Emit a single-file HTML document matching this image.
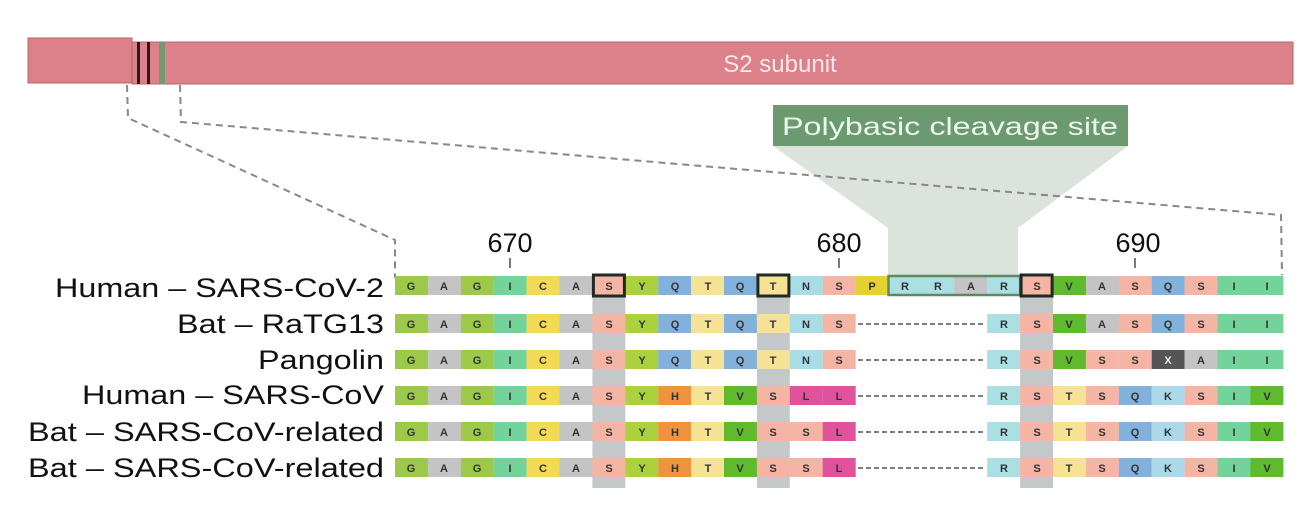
<!DOCTYPE html>
<html><head><meta charset="utf-8"><style>
body{margin:0;background:#fff}
svg{display:block}
.lb{font-family:"Liberation Sans",sans-serif;font-size:27px;fill:#111;text-anchor:end}
.t{font-family:"Liberation Sans",sans-serif;font-size:11px;font-weight:bold;fill:#333;text-anchor:middle}
.G{fill:#9cc94a}.A{fill:#c4c4c4}.I{fill:#72d49b}.C{fill:#f2da55}.S{fill:#f5b5a5}.Y{fill:#acd13e}.Q{fill:#82b2db}.T{fill:#f6e294}.N{fill:#a9dde6}.P{fill:#e5d232}.R{fill:#aadfe3}.V{fill:#5fba2e}.H{fill:#f0933e}.L{fill:#e0529b}.K{fill:#abd9ea}.X{fill:#555}
</style></head><body>
<svg width="1315" height="517" viewBox="0 0 1315 517" xmlns="http://www.w3.org/2000/svg">
<!-- top bar -->
<rect x="28" y="38" width="104" height="45" fill="#dc8089" stroke="#b86670" stroke-width="1"/>
<rect x="132" y="42" width="1161" height="42" fill="#dc8089" stroke="#b86670" stroke-width="1"/>
<rect x="137" y="42" width="3" height="42" fill="#2a1a1a"/>
<rect x="147" y="42" width="3" height="42" fill="#2a1a1a"/>
<rect x="159" y="42" width="6" height="42" fill="#6f9a72"/>
<text x="780" y="72" font-family="Liberation Sans,sans-serif" font-size="24" fill="#fbe8ea" text-anchor="middle">S2 subunit</text>
<!-- funnel -->
<polygon points="773,146 1128,146 1018,228 1018,278 888,278 888,228" fill="#d8dfd8" opacity="0.9"/>
<rect x="773" y="105" width="355" height="41" fill="#6b9a70"/>
<text x="950" y="135" font-family="Liberation Sans,sans-serif" font-size="25" fill="#eef5ee" text-anchor="middle" textLength="336" lengthAdjust="spacingAndGlyphs">Polybasic cleavage site</text>
<!-- dashed zoom lines -->
<polyline points="127,85 128,118 395,240 395,278" fill="none" stroke="#888" stroke-width="2" stroke-dasharray="7,5"/>
<polyline points="180,85 181,122 1281,215 1282,275" fill="none" stroke="#888" stroke-width="2" stroke-dasharray="7,5"/>
<!-- ticks -->
<g font-family="Liberation Sans,sans-serif" font-size="27" fill="#111" text-anchor="middle">
<text x="510" y="252">670</text><text x="839" y="252">680</text><text x="1138" y="252">690</text></g>
<g stroke="#777" stroke-width="2"><line x1="510" y1="258" x2="510" y2="268"/><line x1="839" y1="258" x2="839" y2="268"/><line x1="1135" y1="258" x2="1135" y2="268"/></g>
<!-- grey columns -->
<g fill="#c4c8c8"><rect x="592.4" y="295" width="32.9" height="193"/><rect x="756.9" y="295" width="32.9" height="193"/><rect x="1020.1" y="295" width="32.9" height="193"/></g>
<!-- labels -->
<text class="lb" x="384" y="297" textLength="329" lengthAdjust="spacingAndGlyphs">Human – SARS-CoV-2</text>
<text class="lb" x="384" y="333" textLength="207" lengthAdjust="spacingAndGlyphs">Bat – RaTG13</text>
<text class="lb" x="384" y="369" textLength="126" lengthAdjust="spacingAndGlyphs">Pangolin</text>
<text class="lb" x="384" y="404" textLength="302" lengthAdjust="spacingAndGlyphs">Human – SARS-CoV</text>
<text class="lb" x="384" y="441" textLength="356" lengthAdjust="spacingAndGlyphs">Bat – SARS-CoV-related</text>
<text class="lb" x="384" y="477" textLength="356" lengthAdjust="spacingAndGlyphs">Bat – SARS-CoV-related</text>

<!-- Row 1 -->
<g transform="translate(0,276)">
<rect class="G" x="395" width="33" height="19"/><rect class="A" x="427.9" width="33" height="19"/><rect class="G" x="460.8" width="33" height="19"/><rect class="I" x="493.7" width="33" height="19"/><rect class="C" x="526.6" width="33" height="19"/><rect class="A" x="559.5" width="33" height="19"/><rect class="S" x="592.4" width="33" height="19"/><rect class="Y" x="625.3" width="33" height="19"/><rect class="Q" x="658.2" width="33" height="19"/><rect class="T" x="691.1" width="33" height="19"/><rect class="Q" x="724" width="33" height="19"/><rect class="T" x="756.9" width="33" height="19"/><rect class="N" x="789.8" width="33" height="19"/><rect class="S" x="822.7" width="33" height="19"/><rect class="P" x="855.6" width="33" height="19"/><rect class="R" x="888.5" width="33" height="19"/><rect class="R" x="921.4" width="33" height="19"/><rect class="A" x="954.3" width="33" height="19"/><rect class="R" x="987.2" width="33" height="19"/><rect class="S" x="1020.1" width="33" height="19"/><rect class="V" x="1053" width="33" height="19"/><rect class="A" x="1085.9" width="33" height="19"/><rect class="S" x="1118.8" width="33" height="19"/><rect class="Q" x="1151.7" width="33" height="19"/><rect class="S" x="1184.6" width="33" height="19"/><rect class="I" x="1217.5" width="33" height="19"/><rect class="I" x="1250.4" width="33" height="19"/>
<g class="t"><text x="411" y="14">G</text><text x="444" y="14">A</text><text x="477" y="14">G</text><text x="510" y="14">I</text><text x="543" y="14">C</text><text x="576" y="14">A</text><text x="609" y="14">S</text><text x="642" y="14">Y</text><text x="675" y="14">Q</text><text x="708" y="14">T</text><text x="740" y="14">Q</text><text x="773" y="14">T</text><text x="806" y="14">N</text><text x="839" y="14">S</text><text x="872" y="14">P</text><text x="905" y="14">R</text><text x="938" y="14">R</text><text x="971" y="14">A</text><text x="1004" y="14">R</text><text x="1037" y="14">S</text><text x="1069" y="14">V</text><text x="1102" y="14">A</text><text x="1135" y="14">S</text><text x="1168" y="14">Q</text><text x="1201" y="14">S</text><text x="1234" y="14">I</text><text x="1267" y="14">I</text></g>
<rect x="888.5" y="0" width="131.6" height="19" fill="none" stroke="#5d8a62" stroke-width="2.5"/>
<g fill="none" stroke="#1f2a24" stroke-width="3"><rect x="593.4" y="-1" width="31" height="21"/><rect x="757.9" y="-1" width="31" height="21"/><rect x="1021.1" y="-1" width="31" height="21"/></g>
</g>

<!-- Row 2 -->
<g transform="translate(0,314)">
<rect class="G" x="395" width="33" height="19"/><rect class="A" x="427.9" width="33" height="19"/><rect class="G" x="460.8" width="33" height="19"/><rect class="I" x="493.7" width="33" height="19"/><rect class="C" x="526.6" width="33" height="19"/><rect class="A" x="559.5" width="33" height="19"/><rect class="S" x="592.4" width="33" height="19"/><rect class="Y" x="625.3" width="33" height="19"/><rect class="Q" x="658.2" width="33" height="19"/><rect class="T" x="691.1" width="33" height="19"/><rect class="Q" x="724" width="33" height="19"/><rect class="T" x="756.9" width="33" height="19"/><rect class="N" x="789.8" width="33" height="19"/><rect class="S" x="822.7" width="33" height="19"/><rect class="R" x="987.2" width="33" height="19"/><rect class="S" x="1020.1" width="33" height="19"/><rect class="V" x="1053" width="33" height="19"/><rect class="A" x="1085.9" width="33" height="19"/><rect class="S" x="1118.8" width="33" height="19"/><rect class="Q" x="1151.7" width="33" height="19"/><rect class="S" x="1184.6" width="33" height="19"/><rect class="I" x="1217.5" width="33" height="19"/><rect class="I" x="1250.4" width="33" height="19"/>
<line x1="858" y1="10" x2="985" y2="10" stroke="#555" stroke-width="1.5" stroke-dasharray="5,3"/>
<g class="t"><text x="411" y="14">G</text><text x="444" y="14">A</text><text x="477" y="14">G</text><text x="510" y="14">I</text><text x="543" y="14">C</text><text x="576" y="14">A</text><text x="609" y="14">S</text><text x="642" y="14">Y</text><text x="675" y="14">Q</text><text x="708" y="14">T</text><text x="740" y="14">Q</text><text x="773" y="14">T</text><text x="806" y="14">N</text><text x="839" y="14">S</text><text x="1004" y="14">R</text><text x="1037" y="14">S</text><text x="1069" y="14">V</text><text x="1102" y="14">A</text><text x="1135" y="14">S</text><text x="1168" y="14">Q</text><text x="1201" y="14">S</text><text x="1234" y="14">I</text><text x="1267" y="14">I</text></g>
</g>

<!-- Row 3 -->
<g transform="translate(0,350)">
<rect class="G" x="395" width="33" height="19"/><rect class="A" x="427.9" width="33" height="19"/><rect class="G" x="460.8" width="33" height="19"/><rect class="I" x="493.7" width="33" height="19"/><rect class="C" x="526.6" width="33" height="19"/><rect class="A" x="559.5" width="33" height="19"/><rect class="S" x="592.4" width="33" height="19"/><rect class="Y" x="625.3" width="33" height="19"/><rect class="Q" x="658.2" width="33" height="19"/><rect class="T" x="691.1" width="33" height="19"/><rect class="Q" x="724" width="33" height="19"/><rect class="T" x="756.9" width="33" height="19"/><rect class="N" x="789.8" width="33" height="19"/><rect class="S" x="822.7" width="33" height="19"/><rect class="R" x="987.2" width="33" height="19"/><rect class="S" x="1020.1" width="33" height="19"/><rect class="V" x="1053" width="33" height="19"/><rect class="S" x="1085.9" width="33" height="19"/><rect class="S" x="1118.8" width="33" height="19"/><rect class="X" x="1151.7" width="33" height="19"/><rect class="A" x="1184.6" width="33" height="19"/><rect class="I" x="1217.5" width="33" height="19"/><rect class="I" x="1250.4" width="33" height="19"/>
<line x1="858" y1="10" x2="985" y2="10" stroke="#555" stroke-width="1.5" stroke-dasharray="5,3"/>
<g class="t"><text x="411" y="14">G</text><text x="444" y="14">A</text><text x="477" y="14">G</text><text x="510" y="14">I</text><text x="543" y="14">C</text><text x="576" y="14">A</text><text x="609" y="14">S</text><text x="642" y="14">Y</text><text x="675" y="14">Q</text><text x="708" y="14">T</text><text x="740" y="14">Q</text><text x="773" y="14">T</text><text x="806" y="14">N</text><text x="839" y="14">S</text><text x="1004" y="14">R</text><text x="1037" y="14">S</text><text x="1069" y="14">V</text><text x="1102" y="14">S</text><text x="1135" y="14">S</text><text x="1168" y="14" style="fill:#eee">X</text><text x="1201" y="14">A</text><text x="1234" y="14">I</text><text x="1267" y="14">I</text></g>
</g>

<!-- Row 4 -->
<g transform="translate(0,386)">
<rect class="G" x="395" width="33" height="19"/><rect class="A" x="427.9" width="33" height="19"/><rect class="G" x="460.8" width="33" height="19"/><rect class="I" x="493.7" width="33" height="19"/><rect class="C" x="526.6" width="33" height="19"/><rect class="A" x="559.5" width="33" height="19"/><rect class="S" x="592.4" width="33" height="19"/><rect class="Y" x="625.3" width="33" height="19"/><rect class="H" x="658.2" width="33" height="19"/><rect class="T" x="691.1" width="33" height="19"/><rect class="V" x="724" width="33" height="19"/><rect class="S" x="756.9" width="33" height="19"/><rect class="L" x="789.8" width="33" height="19"/><rect class="L" x="822.7" width="33" height="19"/><rect class="R" x="987.2" width="33" height="19"/><rect class="S" x="1020.1" width="33" height="19"/><rect class="T" x="1053" width="33" height="19"/><rect class="S" x="1085.9" width="33" height="19"/><rect class="Q" x="1118.8" width="33" height="19"/><rect class="K" x="1151.7" width="33" height="19"/><rect class="S" x="1184.6" width="33" height="19"/><rect class="I" x="1217.5" width="33" height="19"/><rect class="V" x="1250.4" width="33" height="19"/>
<line x1="858" y1="10" x2="985" y2="10" stroke="#555" stroke-width="1.5" stroke-dasharray="5,3"/>
<g class="t"><text x="411" y="14">G</text><text x="444" y="14">A</text><text x="477" y="14">G</text><text x="510" y="14">I</text><text x="543" y="14">C</text><text x="576" y="14">A</text><text x="609" y="14">S</text><text x="642" y="14">Y</text><text x="675" y="14">H</text><text x="708" y="14">T</text><text x="740" y="14">V</text><text x="773" y="14">S</text><text x="806" y="14">L</text><text x="839" y="14">L</text><text x="1004" y="14">R</text><text x="1037" y="14">S</text><text x="1069" y="14">T</text><text x="1102" y="14">S</text><text x="1135" y="14">Q</text><text x="1168" y="14">K</text><text x="1201" y="14">S</text><text x="1234" y="14">I</text><text x="1267" y="14">V</text></g>
</g>

<!-- Row 5 -->
<g transform="translate(0,422)">
<rect class="G" x="395" width="33" height="19"/><rect class="A" x="427.9" width="33" height="19"/><rect class="G" x="460.8" width="33" height="19"/><rect class="I" x="493.7" width="33" height="19"/><rect class="C" x="526.6" width="33" height="19"/><rect class="A" x="559.5" width="33" height="19"/><rect class="S" x="592.4" width="33" height="19"/><rect class="Y" x="625.3" width="33" height="19"/><rect class="H" x="658.2" width="33" height="19"/><rect class="T" x="691.1" width="33" height="19"/><rect class="V" x="724" width="33" height="19"/><rect class="S" x="756.9" width="33" height="19"/><rect class="S" x="789.8" width="33" height="19"/><rect class="L" x="822.7" width="33" height="19"/><rect class="R" x="987.2" width="33" height="19"/><rect class="S" x="1020.1" width="33" height="19"/><rect class="T" x="1053" width="33" height="19"/><rect class="S" x="1085.9" width="33" height="19"/><rect class="Q" x="1118.8" width="33" height="19"/><rect class="K" x="1151.7" width="33" height="19"/><rect class="S" x="1184.6" width="33" height="19"/><rect class="I" x="1217.5" width="33" height="19"/><rect class="V" x="1250.4" width="33" height="19"/>
<line x1="858" y1="10" x2="985" y2="10" stroke="#555" stroke-width="1.5" stroke-dasharray="5,3"/>
<g class="t"><text x="411" y="14">G</text><text x="444" y="14">A</text><text x="477" y="14">G</text><text x="510" y="14">I</text><text x="543" y="14">C</text><text x="576" y="14">A</text><text x="609" y="14">S</text><text x="642" y="14">Y</text><text x="675" y="14">H</text><text x="708" y="14">T</text><text x="740" y="14">V</text><text x="773" y="14">S</text><text x="806" y="14">S</text><text x="839" y="14">L</text><text x="1004" y="14">R</text><text x="1037" y="14">S</text><text x="1069" y="14">T</text><text x="1102" y="14">S</text><text x="1135" y="14">Q</text><text x="1168" y="14">K</text><text x="1201" y="14">S</text><text x="1234" y="14">I</text><text x="1267" y="14">V</text></g>
</g>

<!-- Row 6 -->
<g transform="translate(0,458)">
<rect class="G" x="395" width="33" height="19"/><rect class="A" x="427.9" width="33" height="19"/><rect class="G" x="460.8" width="33" height="19"/><rect class="I" x="493.7" width="33" height="19"/><rect class="C" x="526.6" width="33" height="19"/><rect class="A" x="559.5" width="33" height="19"/><rect class="S" x="592.4" width="33" height="19"/><rect class="Y" x="625.3" width="33" height="19"/><rect class="H" x="658.2" width="33" height="19"/><rect class="T" x="691.1" width="33" height="19"/><rect class="V" x="724" width="33" height="19"/><rect class="S" x="756.9" width="33" height="19"/><rect class="S" x="789.8" width="33" height="19"/><rect class="L" x="822.7" width="33" height="19"/><rect class="R" x="987.2" width="33" height="19"/><rect class="S" x="1020.1" width="33" height="19"/><rect class="T" x="1053" width="33" height="19"/><rect class="S" x="1085.9" width="33" height="19"/><rect class="Q" x="1118.8" width="33" height="19"/><rect class="K" x="1151.7" width="33" height="19"/><rect class="S" x="1184.6" width="33" height="19"/><rect class="I" x="1217.5" width="33" height="19"/><rect class="V" x="1250.4" width="33" height="19"/>
<line x1="858" y1="10" x2="985" y2="10" stroke="#555" stroke-width="1.5" stroke-dasharray="5,3"/>
<g class="t"><text x="411" y="14">G</text><text x="444" y="14">A</text><text x="477" y="14">G</text><text x="510" y="14">I</text><text x="543" y="14">C</text><text x="576" y="14">A</text><text x="609" y="14">S</text><text x="642" y="14">Y</text><text x="675" y="14">H</text><text x="708" y="14">T</text><text x="740" y="14">V</text><text x="773" y="14">S</text><text x="806" y="14">S</text><text x="839" y="14">L</text><text x="1004" y="14">R</text><text x="1037" y="14">S</text><text x="1069" y="14">T</text><text x="1102" y="14">S</text><text x="1135" y="14">Q</text><text x="1168" y="14">K</text><text x="1201" y="14">S</text><text x="1234" y="14">I</text><text x="1267" y="14">V</text></g>
</g>
</svg>
</body></html>
